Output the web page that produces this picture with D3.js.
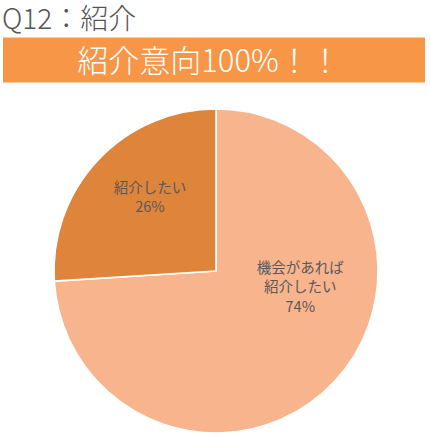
<!DOCTYPE html>
<html><head><meta charset="utf-8">
<script src="https://cdn.jsdelivr.net/npm/d3@7"></script>
<style>
html,body{margin:0;padding:0;background:#fff;}
svg{display:block;}
text{font-family:"Noto Sans CJK JP","Noto Sans",sans-serif;}
</style></head>
<body>
<script>
const title = "Q12：紹介";
const banner = "紹介意向100%！！";
const categories = ["機会があれば\n紹介したい", "紹介したい"];
const values = [74, 26];
const colors = ["#F8B48C", "#DF843B"];

const W = 430, H = 438;
const svg = d3.select("body").append("svg").attr("width", W).attr("height", H);

svg.append("text").attr("x", 2).attr("y", 28.5)
  .attr("font-size", 28).attr("font-weight", 300).attr("fill", "#555")
  .text(title);

svg.append("rect").attr("x", 3).attr("y", 37.5).attr("width", 422).attr("height", 45)
  .attr("fill", "#F79646");
svg.append("text").attr("x", 209).attr("y", 72).attr("text-anchor", "middle")
  .attr("font-size", 31).attr("font-weight", 300).attr("fill", "#fff")
  .text(banner);

const cx = 216, cy = 271, r = 162;
const g = svg.append("g").attr("transform", `translate(${cx},${cy})`);
const pie = d3.pie().sort(null).value(d => d)(values);
const arc = d3.arc().innerRadius(0).outerRadius(r);

g.selectAll("path").data(pie).join("path")
  .attr("d", arc).attr("fill", (d, i) => colors[i])
  .attr("stroke", "#fff").attr("stroke-width", 1.6).attr("stroke-linejoin", "round");

// label placement (angle in degrees from top, radius fraction)
const labelPos = [{a: 101, f: 0.53}, {a: 318, f: 0.61}];
pie.forEach((d, i) => {
  const a = labelPos[i].a * Math.PI / 180, rr = labelPos[i].f * r;
  const x = Math.sin(a) * rr, y = -Math.cos(a) * rr;
  const lines = categories[i].split("\n").concat([values[i] + "%"]);
  const lh = 19.5;
  const t = g.append("text").attr("text-anchor", "middle")
    .attr("font-size", 14.5).attr("fill", "#595959");
  lines.forEach((l, k) => {
    t.append("tspan").attr("x", x)
      .attr("y", y + (k - (lines.length - 1) / 2) * lh + 5)
      .text(l);
  });
});
</script>
</body></html>
